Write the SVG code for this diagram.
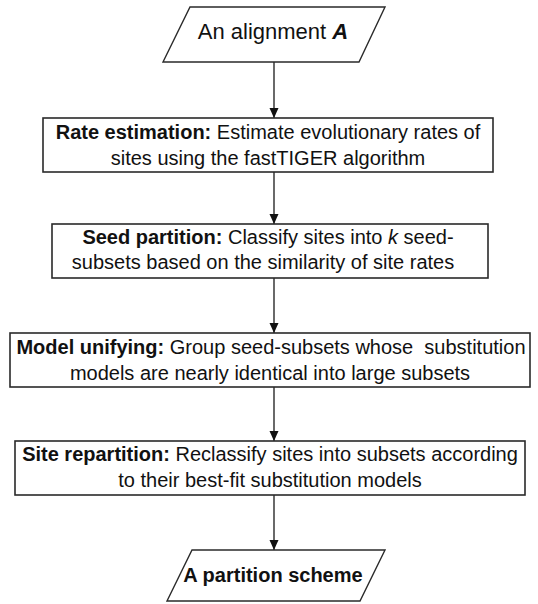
<svg xmlns="http://www.w3.org/2000/svg" width="538" height="604" viewBox="0 0 538 604">
<defs>
<style>
.box{fill:#fff;stroke:#2a2a2a;stroke-width:1.6}
.io{fill:#fff;stroke:#2a2a2a;stroke-width:1.4}
.t{font-family:"Liberation Sans",Arial,sans-serif;font-size:20px;fill:#111;text-anchor:middle}
.b{font-weight:bold}
.edge{stroke:#2a2a2a;stroke-width:1.4;fill:none;marker-end:url(#ah)}
</style>
<marker id="ah" viewBox="0 0 10 10" refX="10" refY="5" markerWidth="10" markerHeight="10" markerUnits="userSpaceOnUse" orient="auto">
<path d="M0,0.5 L10,5 L0,9.5 Z" fill="#111"/>
</marker>
</defs>
<rect width="538" height="604" fill="#fff"/>
<g id="connectors">
<line class="edge" x1="274" y1="62" x2="274" y2="118"/>
<line class="edge" x1="274" y1="172" x2="274" y2="224"/>
<line class="edge" x1="274" y1="278" x2="274" y2="333"/>
<line class="edge" x1="274" y1="387" x2="274" y2="441"/>
<line class="edge" x1="274" y1="495" x2="274" y2="550"/>
</g>
<g id="input">
<polygon class="io" points="190,7 385,7 359,62 163,62"/>
<text class="t" x="273" y="39" style="font-size:22px">An alignment <tspan class="b" font-style="italic">A</tspan></text>
</g>
<g id="rate">
<rect class="box" x="43" y="118" width="450" height="54"/>
<text class="t" x="268" y="139"><tspan class="b">Rate estimation:</tspan> Estimate evolutionary rates of</text>
<text class="t" x="268" y="165">sites using the fastTIGER algorithm</text>
</g>
<g id="seed">
<rect class="box" x="52" y="224" width="436" height="54"/>
<text class="t" x="268" y="244"><tspan class="b">Seed partition:</tspan> Classify sites into <tspan font-style="italic">k</tspan> seed-</text>
<text class="t" x="263" y="269">subsets based on the similarity of site rates</text>
</g>
<g id="model">
<rect class="box" x="10" y="333" width="520" height="54"/>
<text class="t" x="271" y="354" xml:space="preserve"><tspan class="b">Model unifying:</tspan> Group seed-subsets whose  substitution</text>
<text class="t" x="270" y="380">models are nearly identical into large subsets</text>
</g>
<g id="site">
<rect class="box" x="15" y="441" width="510" height="54"/>
<text class="t" x="270" y="461"><tspan class="b">Site repartition:</tspan> Reclassify sites into subsets according</text>
<text class="t" x="270" y="487">to their best-fit substitution models</text>
</g>
<g id="output">
<polygon class="io" points="192,550 385,550 360,601 167,601"/>
<text class="t b" x="273" y="582">A partition scheme</text>
</g>
</svg>
